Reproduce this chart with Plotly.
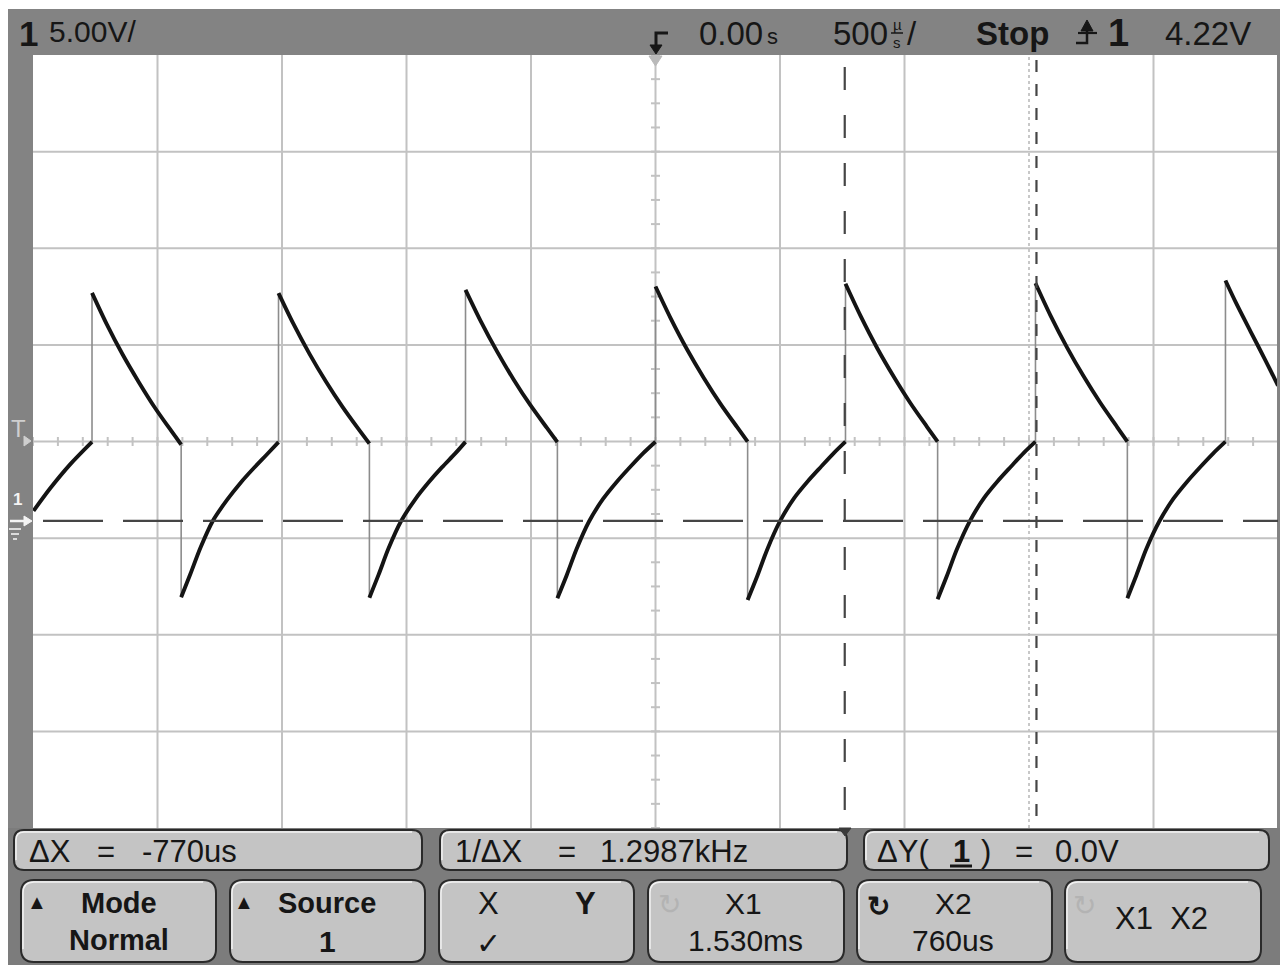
import plotly.graph_objects as go

TIME_PER_DIV_US = 500
VOLTS_PER_DIV = 5.0
SCREEN_CENTER_V = 4.11          # voltage at the screen centre line
CURSOR_X1_US = 1530
CURSOR_X2_US = 760
CURSOR_Y_V = 0.0

# rising (charging) segments, time in microseconds, voltage in volts
charge_t = [
    [-2498, -2430, -2349, -2263],
    [-1905, -1868, -1828, -1778, -1720, -1666, -1612, -1560, -1514],
    [-1149, -1112, -1072, -1022, -965, -911, -858, -805, -763],
    [-394, -357, -317, -267, -210, -156, -103, -50, 0],
    [370, 408, 448, 499, 556, 610, 663, 716, 763],
    [1133, 1170, 1210, 1262, 1319, 1373, 1426, 1479, 1526],
    [1895, 1931, 1971, 2023, 2080, 2134, 2187, 2240, 2289],
]
charge_v = [
    [0.52, 1.70, 2.95, 4.09],
    [-3.95, -2.75, -1.40, 0.00, 1.10, 1.98, 2.75, 3.45, 4.08],
    [-3.97, -2.78, -1.42, -0.02, 1.12, 2.00, 2.77, 3.48, 4.09],
    [-4.00, -2.82, -1.45, -0.03, 1.15, 2.02, 2.78, 3.50, 4.10],
    [-4.09, -2.88, -1.50, -0.04, 1.17, 2.03, 2.78, 3.51, 4.10],
    [-4.05, -2.85, -1.48, -0.02, 1.18, 2.04, 2.79, 3.52, 4.10],
    [-4.00, -2.82, -1.45, -0.03, 1.15, 2.02, 2.78, 3.50, 4.10],
]
# falling (decay) segments
decay_t = [
    [-2263, -2205, -2140, -2075, -2011, -1946, -1905],
    [-1514, -1455, -1389, -1323, -1257, -1191, -1149],
    [-763, -703, -636, -570, -503, -436, -394],
    [0, 60, 127, 194, 261, 328, 370],
    [763, 823, 890, 957, 1024, 1091, 1133],
    [1526, 1586, 1653, 1720, 1787, 1854, 1895],
    [2289, 2330, 2390, 2450, 2500],
]
decay_v = [
    [11.80, 10.21, 8.61, 7.18, 5.87, 4.68, 3.95],
    [11.79, 10.22, 8.63, 7.20, 5.90, 4.72, 4.00],
    [11.96, 10.37, 8.76, 7.32, 6.00, 4.81, 4.08],
    [12.13, 10.51, 8.87, 7.40, 6.06, 4.85, 4.10],
    [12.27, 10.62, 8.95, 7.46, 6.09, 4.86, 4.10],
    [12.30, 10.64, 8.97, 7.47, 6.10, 4.86, 4.10],
    [12.44, 11.32, 9.80, 8.30, 7.00],
]

header_ch = "1"
header_scale = "5.00V/"
header_delay = "0.00"
header_timebase = "500"
header_state = "Stop"
header_trig_src = "1"
header_trig_level = "4.22V"

meas_labels = [("ΔX", "=", "-770us"), ("1/ΔX", "=", "1.2987kHz"), ("ΔY(", "1", ")", "=", "0.0V")]
softkey_top = ["Mode", "Source", "X", "X1", "X2", "X1  X2"]
softkey_bottom = ["Normal", "1", "✓", "1.530ms", "760us", ""]

# ---------------- geometry helpers ----------------
W, H = 1280, 965
PL, PR, PT, PB = 33, 1278, 55, 828
XMIN, XMAX = -5 * TIME_PER_DIV_US, 5 * TIME_PER_DIV_US
YMIN, YMAX = SCREEN_CENTER_V - 4 * VOLTS_PER_DIV, SCREEN_CENTER_V + 4 * VOLTS_PER_DIV


def fx(x):
    return (x - PL) / (PR - PL)


def fy(y):
    return (PB - y) / (PB - PT)


def vy(ypx):  # pixel row -> volts
    return YMIN + (PB - ypx) / (PB - PT) * (YMAX - YMIN)


def tx(xpx):  # pixel column -> microseconds
    return XMIN + (xpx - PL) / (PR - PL) * (XMAX - XMIN)


shapes = []
annotations = []
FONT = "Liberation Sans, Arial, sans-serif"
INK = "#161616"


def rect(x0, y0, x1, y1, fill, layer="above"):
    shapes.append(dict(type="rect", xref="paper", yref="paper", x0=fx(x0), x1=fx(x1),
                       y0=fy(y1), y1=fy(y0), fillcolor=fill, line=dict(width=0), layer=layer))


def P(x, y):
    return f"{fx(x):.5f},{fy(y):.5f}"


def path(d_pts, fill=None, color=INK, width=0, layer="above", dash=None):
    s = dict(type="path", xref="paper", yref="paper", path=d_pts, layer=layer,
             line=dict(color=color, width=width))
    if dash:
        s["line"]["dash"] = dash
    if fill:
        s["fillcolor"] = fill
    shapes.append(s)


def rrect(x0, y0, x1, y1, r, fill, border="#2a2a2a"):
    d = (f"M{P(x0 + r, y0)} L{P(x1 - r, y0)} Q{P(x1, y0)} {P(x1, y0 + r)} "
         f"L{P(x1, y1 - r)} Q{P(x1, y1)} {P(x1 - r, y1)} L{P(x0 + r, y1)} "
         f"Q{P(x0, y1)} {P(x0, y1 - r)} L{P(x0, y0 + r)} Q{P(x0, y0)} {P(x0 + r, y0)} Z")
    path(d, fill=fill, color=border, width=2)
    # light bevel on top / left edges
    hl = (f"M{P(x0 + 2, y1 - r)} L{P(x0 + 2, y0 + r)} Q{P(x0 + 2, y0 + 2)} {P(x0 + r, y0 + 2)} "
          f"L{P(x1 - r, y0 + 2)}")
    path(hl, color="#f2f2f2", width=1.5)


def text(x, y, s, size, bold=False, color=INK, xanchor="left", yanchor="middle"):
    annotations.append(dict(xref="paper", yref="paper", x=fx(x), y=fy(y),
                            text=f"<b>{s}</b>" if bold else s, showarrow=False,
                            xanchor=xanchor, yanchor=yanchor,
                            font=dict(family=FONT, size=size, color=color)))


# ---------------- frame ----------------
rect(8, 9, 1280, 55, "#838383")          # top status bar
rect(8, 9, 33, 828, "#838383")           # left marker column
rect(1277, 9, 1280, 828, "#838383")      # right edge
rect(8, 828, 1280, 965, "#7c7c7c")       # bottom soft-key panel

# ---------------- graticule ----------------
GRID = "#c2c2c2"
for i in range(-4, 5):
    t = i * TIME_PER_DIV_US
    g = dict(type="line", xref="x", yref="y", x0=t, x1=t, y0=YMIN, y1=YMAX, layer="below",
             line=dict(color=GRID, width=2))
    if t == 1500:
        g["line"] = dict(color="#c8c8c8", width=2, dash="3px,3px")
    shapes.append(g)
for k in range(-3, 4):
    v = SCREEN_CENTER_V + k * VOLTS_PER_DIV
    shapes.append(dict(type="line", xref="x", yref="y", x0=XMIN, x1=XMAX, y0=v, y1=v,
                       layer="below", line=dict(color=GRID, width=2)))

# minor ticks on centre axes
tick_x, tick_y = [], []
hx = 4.5 * (XMAX - XMIN) / (PR - PL)
hy = 4.5 * (YMAX - YMIN) / (PB - PT)
for j in range(-25, 26):
    t = j * TIME_PER_DIV_US / 5
    tick_x += [t, t, None]
    tick_y += [SCREEN_CENTER_V - hy, SCREEN_CENTER_V + hy, None]
for j in range(-16, 17):
    v = SCREEN_CENTER_V + j * VOLTS_PER_DIV / 4
    tick_x += [-hx, hx, None]
    tick_y += [v, v, None]

# ---------------- cursors ----------------
CUR = "#454545"
shapes.append(dict(type="line", xref="x", yref="y", x0=tx(43), x1=XMAX, y0=CURSOR_Y_V, y1=CURSOR_Y_V,
                   line=dict(color=CUR, width=2.2, dash="60px,20px"), layer="above"))
shapes.append(dict(type="line", xref="x", yref="y", x0=CURSOR_X2_US, x1=CURSOR_X2_US, y0=vy(67), y1=YMIN,
                   line=dict(color=CUR, width=2.2, dash="23px,25px"), layer="above"))
shapes.append(dict(type="line", xref="x", yref="y", x0=CURSOR_X1_US, x1=CURSOR_X1_US, y0=vy(60), y1=YMIN,
                   line=dict(color=CUR, width=2.2, dash="12px,12px"), layer="above"))

# trigger position marker under the status bar
path(f"M{P(649, 56)} L{P(662, 56)} L{P(655.5, 66)} Z", fill="#b9b9b9", color="#b9b9b9", width=1)

# ---------------- waveform ----------------
segs = []
for k in range(len(decay_t)):
    segs.append((charge_t[k], charge_v[k]))
    segs.append((decay_t[k], decay_v[k]))
curve_x, curve_y, edge_x, edge_y = [], [], [], []
prev = None
for ts, vs in segs:
    curve_x += list(ts) + [None]
    curve_y += list(vs) + [None]
    if prev is not None:
        edge_x += [prev[0], ts[0], None]
        edge_y += [prev[1], vs[0], None]
    prev = (ts[-1], vs[-1])

fig = go.Figure()
fig.add_trace(go.Scatter(x=tick_x, y=tick_y, mode="lines", line=dict(color=GRID, width=2),
                         hoverinfo="skip", showlegend=False))
fig.add_trace(go.Scatter(x=edge_x, y=edge_y, mode="lines", line=dict(color="#8c8c8c", width=1.6),
                         hoverinfo="skip", showlegend=False))
fig.add_trace(go.Scatter(x=curve_x, y=curve_y, mode="lines",
                         line=dict(color="#141414", width=3.9, shape="spline", smoothing=0.8),
                         connectgaps=False, hoverinfo="skip", showlegend=False))

# ---------------- left markers ----------------
text(9, 428, "T", 24, color="#cfcfcf")
path(f"M{P(24, 436)} L{P(31, 441)} L{P(24, 446)} Z", fill="#cfcfcf", color="#cfcfcf", width=1)
text(11, 499, "1", 17, bold=True, color="#f4f4f4")
path(f"M{P(10, 521)} L{P(28, 521)}", color="#f4f4f4", width=2.5)
path(f"M{P(24, 516)} L{P(32, 521)} L{P(24, 526)} Z", fill="#f4f4f4", color="#f4f4f4", width=1)
path(f"M{P(9, 529)} L{P(21, 529)} M{P(11, 534)} L{P(19, 534)} M{P(13, 539)} L{P(17, 539)}",
     color="#dcdcdc", width=1.8)

# ---------------- status bar text ----------------
text(17, 33, header_ch, 35, bold=True)
text(47, 31, header_scale, 30)
# delay marker icon
path(f"M{P(668, 33)} L{P(656, 33)} L{P(656, 47)}", color=INK, width=3)
path(f"M{P(650, 45)} L{P(662, 45)} L{P(656, 54)} Z", fill=INK, color=INK, width=1)
text(697, 33, header_delay, 33)
text(765, 37, "s", 22)
text(831, 33, header_timebase, 33)
text(897, 25, "µ", 15, xanchor="center")
path(f"M{P(891, 33)} L{P(903, 33)}", color=INK, width=1.5)
text(897, 42, "s", 15, xanchor="center")
text(905, 33, "/", 33)
text(974, 33, header_state, 33, bold=True)
# rising-edge trigger icon
path(f"M{P(1076, 43)} L{P(1087, 43)} L{P(1087, 24)}", color=INK, width=2.5)
path(f"M{P(1081, 31)} L{P(1093, 31)} L{P(1087, 20)} Z", fill=INK, color=INK, width=1)
path(f"M{P(1078, 33)} L{P(1097, 33)}", color=INK, width=2.2)
text(1106, 33, header_trig_src, 38, bold=True)
text(1163, 33, header_trig_level, 33)

# ---------------- measurement boxes ----------------
rrect(14, 830, 422, 870, 10, "#c4c4c4")
rrect(440, 830, 847, 870, 10, "#c4c4c4")
rrect(864, 830, 1269, 870, 10, "#c4c4c4")
m1, m2, m3 = meas_labels
text(27, 851, m1[0], 31)
text(95, 851, m1[1], 31)
text(140, 851, m1[2], 31)
text(453, 851, m2[0], 31)
text(556, 851, m2[1], 31)
text(598, 851, m2[2], 31)
text(875, 851, m3[0], 31)
text(951, 851, m3[1], 31, bold=True)
path(f"M{P(950, 866)} L{P(972, 866)}", color=INK, width=3)
text(979, 851, m3[2], 31)
text(1013, 851, m3[3], 31)
text(1053, 851, m3[4], 31)

# ---------------- soft keys ----------------
keys = [(21, 216), (230, 425), (439, 634), (648, 844), (857, 1052), (1065, 1261)]
for x0, x1 in keys:
    rrect(x0, 880, x1, 962, 13, "#c4c4c4")

text(25, 902, "▲", 20)
text(119, 903, softkey_top[0], 29, bold=True, xanchor="center")
text(119, 940, softkey_bottom[0], 29, bold=True, xanchor="center")
text(232, 902, "▲", 20)
text(327, 903, softkey_top[1], 29, bold=True, xanchor="center")
text(327, 941, softkey_bottom[1], 30, bold=True, xanchor="center")
text(488, 903, softkey_top[2], 31, xanchor="center")
text(585, 903, "Y", 31, bold=True, xanchor="center")
text(488, 943, softkey_bottom[2], 30, xanchor="center")
text(669, 904, "↻", 28, color="#b3b3b3", xanchor="center")
text(743, 903, softkey_top[3], 30, xanchor="center")
text(745, 940, softkey_bottom[3], 30, xanchor="center")
text(878, 906, "↻", 28, bold=True, xanchor="center")
text(953, 903, softkey_top[4], 30, xanchor="center")
text(953, 940, softkey_bottom[4], 30, xanchor="center")
text(1084, 905, "↻", 28, color="#b3b3b3", xanchor="center")
text(1161, 918, softkey_top[5], 31, xanchor="center")

# cursor marker on panel top
path(f"M{P(839, 828)} L{P(851, 828)} L{P(845, 836)} Z", fill="#3a3a3a", color="#3a3a3a", width=1)

fig.update_layout(
    width=W, height=H,
    margin=dict(l=PL, r=W - PR, t=PT, b=H - PB, pad=0),
    paper_bgcolor="white", plot_bgcolor="white",
    xaxis=dict(range=[XMIN, XMAX], showgrid=False, zeroline=False, showticklabels=False,
               ticks="", showline=False, fixedrange=True),
    yaxis=dict(range=[YMIN, YMAX], showgrid=False, zeroline=False, showticklabels=False,
               ticks="", showline=False, fixedrange=True),
    shapes=shapes, annotations=annotations, showlegend=False,
)

fig.write_html("out.html", post_script="document.body.style.margin='0';",
               config={"displayModeBar": False})
